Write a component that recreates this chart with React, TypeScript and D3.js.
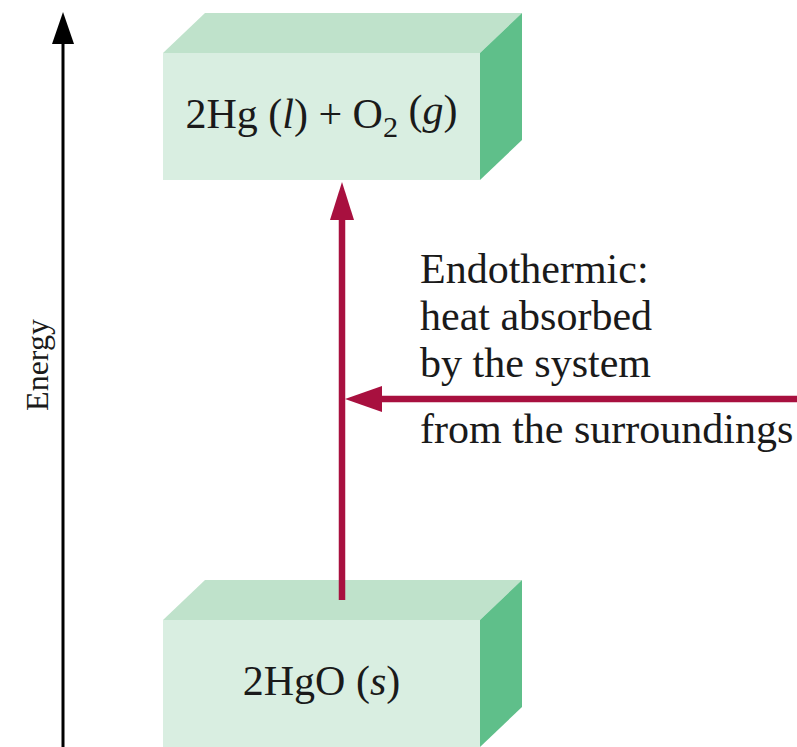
import React from "react";
import * as d3 from "d3";

// energy level diagram: relative energies of reactant and product
const stateLabels = ["2HgO (s)", "2Hg (l) + O2 (g)"];
const energyLevels = [0, 1];
const axisLabel = "Energy";
const noteAbove = ["Endothermic:", "heat absorbed", "by the system"];
const noteBelow = ["from the surroundings"];

const W = 797;
const H = 747;
const FONT = "'Liberation Serif', 'Times New Roman', serif";
const RED = "#a8103f";

// turns "2Hg (l) + O2 (g)" into tspans: italic phase letters, subscript digits after an element
const renderFormula = (s: string) => {
  const parts: React.ReactNode[] = [];
  const re = /\((s|l|g|aq)\)|([A-Za-z])(\d+)/g;
  let last = 0;
  let m: RegExpExecArray | null;
  let k = 0;
  let back: string | undefined; // baseline shift owed after a subscript
  const push = (text: string, extra: Record<string, string> = {}) => {
    parts.push(
      <tspan key={k++} dy={back} {...extra}>
        {text}
      </tspan>
    );
    back = undefined;
  };
  while ((m = re.exec(s))) {
    if (m.index > last) push(s.slice(last, m.index));
    if (m[1]) {
      push("(");
      push(m[1], { fontStyle: "italic" });
      push(")");
    } else {
      push(m[2]);
      parts.push(
        <tspan key={k++} fontSize="0.72em" dy="0.3em">
          {m[3]}
        </tspan>
      );
      back = "-0.3em";
    }
    last = m.index + m[0].length;
  }
  if (last < s.length) push(s.slice(last));
  return parts;
};

const App: React.FC = () => {
  const boxLeft = 163;
  const boxRight = 480;
  const boxH = 127;
  const depthX = 42;
  const depthY = 40;

  // y of the front face top of each level
  const y = d3.scaleLinear().domain([0, 1]).range([620, 53]);

  const arrowX = 342;
  const arrowStart = y(energyLevels[0]) - depthY / 2;
  const arrowEnd = y(energyLevels[1]) + boxH + 2;
  const heatY = 399;
  const textX = 420;
  const lineGap = 47;

  return (
    <svg width={W} height={H} style={{ position: "absolute", left: 0, top: 0, background: "#fff" }}>
      {/* energy axis */}
      <line x1={63} x2={63} y1={H} y2={38} stroke="#000" strokeWidth={3} />
      <path d={d3.line()([[63, 12], [52, 44], [74, 44]]) + "Z"} fill="#000" />
      <text
        transform={`translate(48, 365) rotate(-90)`}
        textAnchor="middle"
        fontFamily={FONT}
        fontSize={32}
        fill="#1a1a1a"
      >
        {axisLabel}
      </text>

      {/* level boxes */}
      {stateLabels.map((label, i) => {
        const top = y(energyLevels[i]);
        const bottom = top + boxH;
        const topFace = d3.line()([
          [boxLeft, top],
          [boxLeft + depthX, top - depthY],
          [boxRight + depthX, top - depthY],
          [boxRight, top],
        ]) + "Z";
        const sideFace = d3.line()([
          [boxRight, top],
          [boxRight + depthX, top - depthY],
          [boxRight + depthX, bottom - depthY],
          [boxRight, bottom],
        ]) + "Z";
        return (
          <g key={label}>
            <rect x={boxLeft} y={top} width={boxRight - boxLeft} height={boxH} fill="#d9eee1" />
            <path d={topFace} fill="#bfe2cb" />
            <path d={sideFace} fill="#5fbf8a" />
            <text
              x={(boxLeft + boxRight) / 2}
              y={top + 75}
              textAnchor="middle"
              fontFamily={FONT}
              fontSize={42}
              fill="#1a1a1a"
            >
              {renderFormula(label)}
            </text>
          </g>
        );
      })}

      {/* reaction arrow */}
      <line x1={arrowX} x2={arrowX} y1={arrowStart} y2={arrowEnd + 30} stroke={RED} strokeWidth={6.5} />
      <path
        d={d3.line()([[arrowX, arrowEnd], [arrowX - 12, arrowEnd + 38], [arrowX + 12, arrowEnd + 38]]) + "Z"}
        fill={RED}
      />

      {/* heat arrow */}
      <line x1={W} x2={arrowX + 30} y1={heatY} y2={heatY} stroke={RED} strokeWidth={6.5} />
      <path
        d={d3.line()([[arrowX + 3, heatY], [arrowX + 40, heatY - 13], [arrowX + 40, heatY + 13]]) + "Z"}
        fill={RED}
      />

      {noteAbove.map((t, i) => (
        <text
          key={t}
          x={textX}
          y={heatY - 22 - (noteAbove.length - 1 - i) * lineGap}
          fontFamily={FONT}
          fontSize={42}
          fill="#1a1a1a"
        >
          {t}
        </text>
      ))}
      {noteBelow.map((t, i) => (
        <text key={t} x={textX} y={heatY + 44 + i * lineGap} fontFamily={FONT} fontSize={42} fill="#1a1a1a">
          {t}
        </text>
      ))}
    </svg>
  );
};

export default App;
